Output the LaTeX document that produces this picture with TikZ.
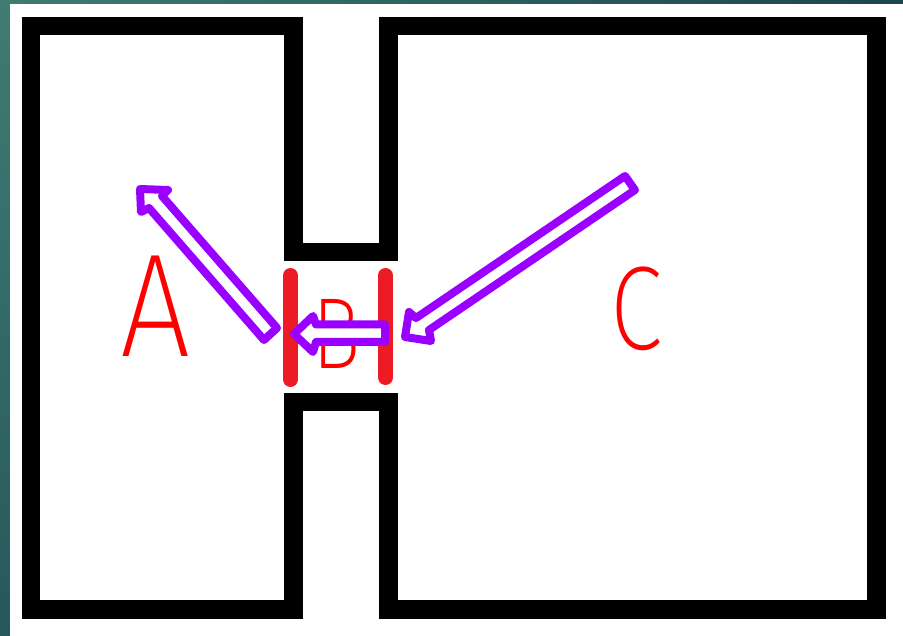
\documentclass[tikz,border=0pt]{standalone}
\usepackage{fontspec}
\newfontfamily\handfont{Fira Sans ExtraLight}
\definecolor{tealA}{RGB}{64,124,114}
\definecolor{tealB}{RGB}{38,88,92}
\definecolor{tealC}{RGB}{28,70,78}
\definecolor{arrowpurple}{RGB}{153,0,255}
\definecolor{barred}{RGB}{237,28,36}
\definecolor{inkred}{RGB}{255,0,0}
\begin{document}
\begin{tikzpicture}[x=1pt,y=-1pt,
  wall/.style={draw=black, line width=18.5pt, line join=miter},
  doorbar/.style={draw=barred, line width=15pt, line cap=round},
  blockarrow/.style={draw=arrowpurple, fill=white, line width=8pt, line join=round},
  letter/.style={text=inkred, inner sep=0pt}]
\useasboundingbox (0,0) rectangle (903,636);
% frame edges and white sheet
\shade[top color=tealA, bottom color=tealB] (0,0) rectangle (10,636);
\shade[left color=tealA, right color=tealC] (0,0) rectangle (903,4);
\fill[white] (10,4) rectangle (903,636);

% two rooms joined by a corridor
\draw[wall] (31,26) -- (293.5,26) -- (293.5,252) -- (388.5,252) -- (388.5,26)
  -- (876.5,26) -- (876.5,609.5) -- (388.5,609.5) -- (388.5,402)
  -- (293.5,402) -- (293.5,609.5) -- (31,609.5) -- cycle;

% doors at both ends of the corridor
\draw[doorbar] (290.5,275.5) -- (290.5,379.5);
\draw[doorbar] (385.5,275.5) -- (385.5,377.5);

% room labels
\node[letter, font=\handfont\fontsize{147}{147}\selectfont, xscale=0.85] (labA) at (156,306) {A};
\node[letter, font=\handfont\fontsize{101}{101}\selectfont, xscale=0.8] (labB) at (336,334) {B};
\node[letter, font=\handfont\fontsize{119}{119}\selectfont, xscale=0.8] (labC) at (637,309) {C};

% flow arrows
\draw[blockarrow] (405,337) -- (409,312) -- (416,318) -- (625,176) -- (635,190)
  -- (429,330) -- (431,341) -- cycle;
\draw[blockarrow] (294,334) -- (313,316) -- (316,324.5) -- (385,324.5) -- (385,342)
  -- (316,342) -- (313,352) -- cycle;
\draw[blockarrow] (140,189) -- (168,190) -- (162,196) -- (277,328) -- (264,340)
  -- (149,208) -- (141,212) -- cycle;
\end{tikzpicture}
\end{document}
